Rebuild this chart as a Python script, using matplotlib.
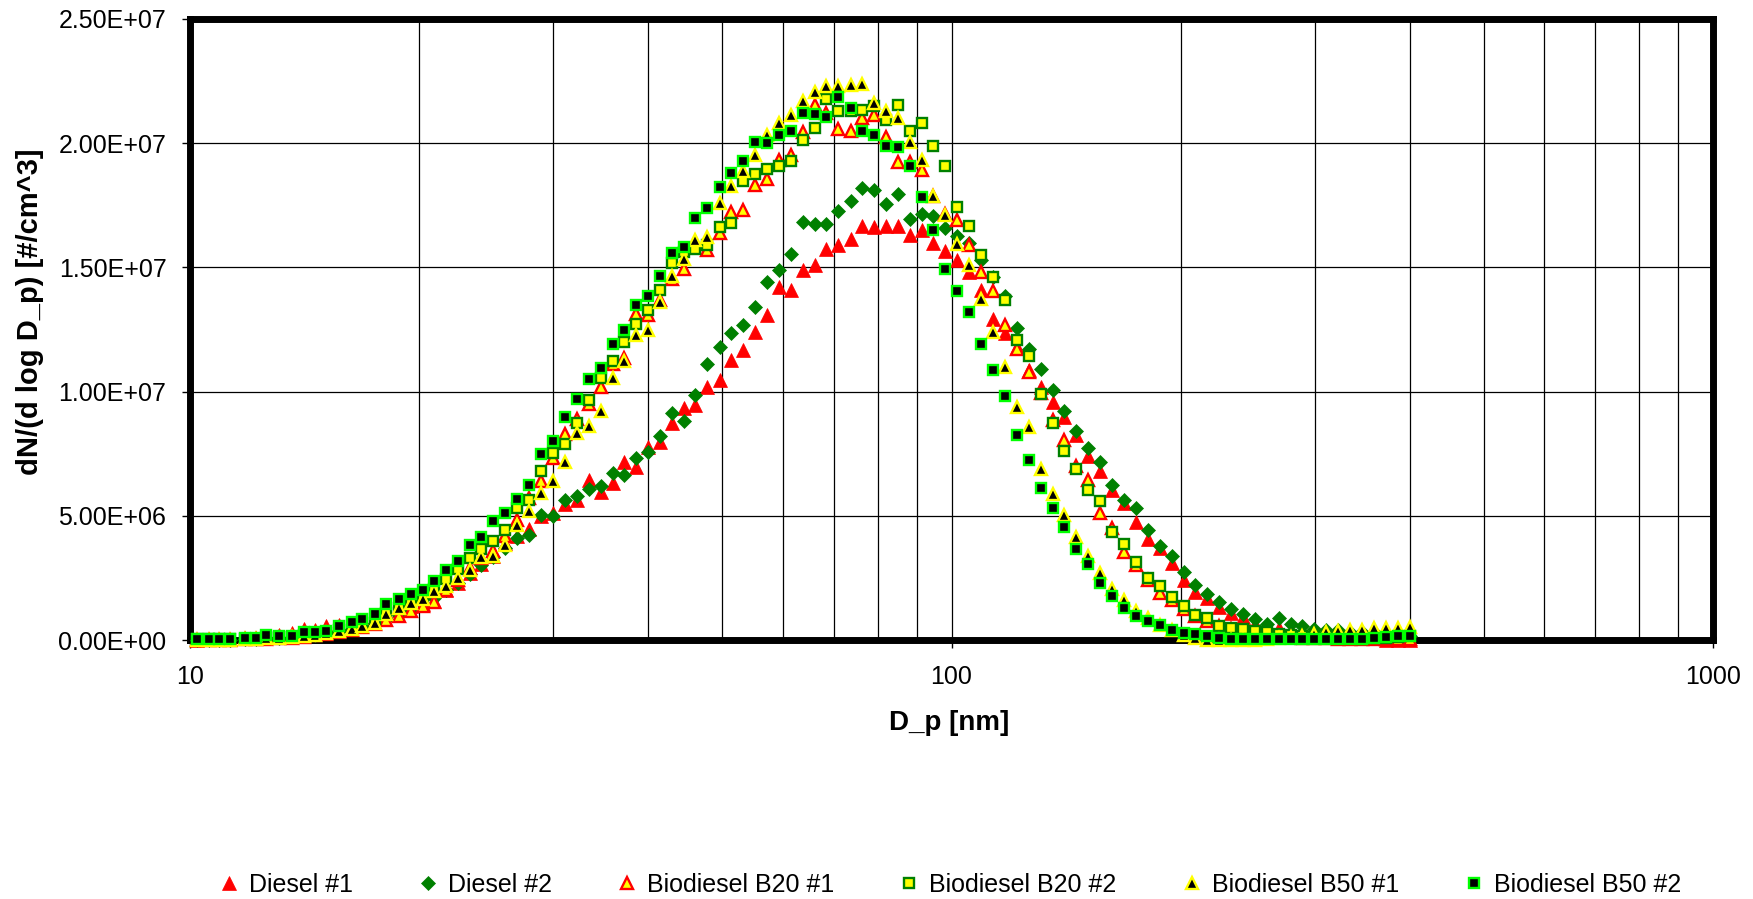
import matplotlib
matplotlib.use("Agg")
import matplotlib.pyplot as plt
import numpy as np
from matplotlib.ticker import FixedLocator, FuncFormatter, NullFormatter

plt.rcParams['font.family'] = ['Liberation Sans', 'DejaVu Sans']

# particle diameter channels [nm]
diameter_nm = [
    10.2, 10.6, 10.9, 11.3, 11.8, 12.2, 12.6, 13.1, 13.6, 14.1,
    14.6, 15.1, 15.7, 16.3, 16.8, 17.5, 18.1, 18.8, 19.5, 20.2,
    20.9, 21.7, 22.5, 23.3, 24.1, 25.0, 25.9, 26.9, 27.9, 28.9,
    30.0, 31.1, 32.2, 33.4, 34.6, 35.9, 37.2, 38.5, 40.0, 41.4,
    42.9, 44.5, 46.1, 47.8, 49.6, 51.4, 53.3, 55.2, 57.3, 59.4,
    61.5, 63.8, 66.1, 68.5, 71.0, 73.7, 76.4, 79.1, 82.0, 85.1,
    88.2, 91.4, 94.7, 98.2, 101.8, 105.5, 109.4, 113.4, 117.6, 121.9,
    126.3, 131.0, 135.8, 140.7, 145.9, 151.2, 156.8, 162.5, 168.5, 174.7,
    181.1, 187.7, 194.6, 201.7, 209.1, 216.7, 224.7, 232.9, 241.4, 250.3,
    259.5, 269.0, 278.8, 289.0, 299.6, 310.6, 322.0, 333.8, 346.0, 358.7,
    371.8, 385.4, 399.5,
]

# dN/dlogDp in units of 1e6 #/cm^3
diesel_1 = [
    0.02, 0.03, 0.04, 0.05, 0.08, 0.10, 0.15, 0.22, 0.30, 0.45,
    0.42, 0.55, 0.60, 0.70, 0.80, 0.92, 1.05, 1.20, 1.35, 1.45,
    1.55, 2.00, 2.30, 2.70, 3.05, 3.40, 3.90, 4.20, 4.45, 4.98,
    5.11, 5.48, 5.63, 6.44, 5.95, 6.32, 7.15, 6.97, 7.78, 7.98,
    8.72, 9.35, 9.45, 10.18, 10.47, 11.28, 11.67, 12.40, 13.08, 14.21,
    14.11, 14.88, 15.08, 15.76, 15.89, 16.16, 16.67, 16.61, 16.67, 16.67,
    16.29, 16.49, 16.00, 15.67, 15.29, 14.80, 14.10, 12.92, 12.35, 11.80,
    10.86, 10.20, 9.59, 8.97, 8.25, 7.40, 6.80, 6.03, 5.50, 4.76,
    4.05, 3.71, 3.08, 2.41, 1.94, 1.68, 1.34, 1.07, 0.94, 0.64,
    0.54, 0.47, 0.40, 0.33, 0.33, 0.31, 0.31, 0.27, 0.24, 0.13,
    0.00, 0.00, 0.00,
]
diesel_2 = [
    0.02, 0.02, 0.02, 0.02, 0.03, 0.05, 0.07, 0.10, 0.13, 0.17,
    0.22, 0.28, 0.36, 0.45, 0.55, 0.68, 0.85, 1.02, 1.22, 1.45,
    1.70, 2.00, 2.30, 2.65, 3.00, 3.35, 3.70, 4.10, 4.22, 5.03,
    4.98, 5.63, 5.79, 6.06, 6.21, 6.74, 6.64, 7.32, 7.57, 8.20,
    9.12, 8.82, 9.86, 11.12, 11.80, 12.37, 12.67, 13.41, 14.41, 14.88,
    15.55, 16.81, 16.76, 16.73, 17.27, 17.66, 18.21, 18.10, 17.54, 17.94,
    16.95, 17.15, 17.06, 16.60, 16.27, 15.99, 15.30, 14.60, 13.85, 12.58,
    11.70, 10.91, 10.08, 9.20, 8.40, 7.74, 7.18, 6.23, 5.63, 5.30,
    4.42, 3.78, 3.40, 2.75, 2.21, 1.86, 1.52, 1.24, 1.04, 0.83,
    0.64, 0.87, 0.63, 0.56, 0.44, 0.40, 0.40, 0.33, 0.33, 0.31,
    0.25, 0.20, 0.18,
]
b20_1 = [
    0.02, 0.02, 0.02, 0.02, 0.03, 0.04, 0.06, 0.08, 0.10, 0.14,
    0.20, 0.26, 0.33, 0.42, 0.52, 0.64, 0.80, 0.95, 1.15, 1.35,
    1.54, 2.00, 2.40, 2.90, 3.30, 3.60, 4.20, 4.83, 5.70, 6.40,
    7.31, 8.31, 8.90, 9.50, 10.19, 11.13, 11.37, 13.14, 13.07, 13.70,
    14.55, 14.95, 15.96, 15.72, 16.40, 17.22, 17.32, 18.30, 18.55, 19.33,
    19.51, 20.45, 21.52, 21.20, 20.58, 20.51, 21.00, 21.12, 20.25, 19.24,
    19.24, 18.91, 17.87, 17.16, 16.89, 15.89, 14.81, 14.05, 12.70, 11.73,
    10.80, 9.95, 8.85, 8.05, 7.00, 6.46, 5.12, 4.50, 3.55, 3.02,
    2.40, 1.90, 1.60, 1.25, 0.95, 0.75, 0.55, 0.45, 0.35, 0.27,
    0.20, 0.15, 0.12, 0.10, 0.08, 0.07, 0.06, 0.05, 0.05, 0.05,
    0.05, 0.05, 0.05,
]
b20_2 = [
    0.03, 0.03, 0.03, 0.03, 0.05, 0.05, 0.10, 0.12, 0.14, 0.20,
    0.22, 0.30, 0.42, 0.55, 0.68, 0.85, 1.10, 1.30, 1.55, 1.75,
    2.05, 2.45, 2.84, 3.31, 3.65, 3.98, 4.43, 5.30, 5.62, 6.81,
    7.51, 7.91, 8.72, 9.68, 10.53, 11.24, 12.00, 12.71, 13.30, 14.10,
    15.18, 15.60, 15.75, 15.89, 16.62, 16.79, 18.47, 18.77, 18.98, 19.10,
    19.28, 20.14, 20.61, 21.76, 21.30, 21.30, 21.32, 21.50, 20.92, 21.55,
    20.50, 20.81, 19.87, 19.07, 17.43, 16.68, 15.48, 14.61, 13.70, 12.09,
    11.42, 9.90, 8.73, 7.60, 6.89, 6.03, 5.59, 4.36, 3.86, 3.15,
    2.48, 2.17, 1.72, 1.37, 1.01, 0.87, 0.57, 0.49, 0.43, 0.36,
    0.31, 0.25, 0.20, 0.16, 0.13, 0.10, 0.08, 0.07, 0.06, 0.08,
    0.10, 0.12, 0.15,
]
b50_1 = [
    0.02, 0.02, 0.02, 0.02, 0.03, 0.05, 0.08, 0.10, 0.12, 0.16,
    0.22, 0.28, 0.36, 0.43, 0.56, 0.70, 1.03, 1.30, 1.50, 1.65,
    1.98, 2.18, 2.49, 2.82, 3.33, 3.38, 3.82, 4.61, 5.20, 5.90,
    6.41, 7.17, 8.34, 8.63, 9.22, 10.53, 11.24, 12.27, 12.46, 13.61,
    14.64, 15.35, 16.09, 16.21, 17.59, 18.28, 18.90, 19.52, 20.35, 20.81,
    21.12, 21.69, 22.08, 22.32, 22.32, 22.36, 22.39, 21.61, 21.28, 21.03,
    20.04, 19.34, 17.88, 17.10, 15.94, 15.11, 13.72, 12.38, 11.00, 9.38,
    8.58, 6.89, 5.86, 5.03, 4.16, 3.38, 2.68, 2.04, 1.61, 1.17,
    0.87, 0.60, 0.40, 0.20, 0.07, 0.00, 0.00, 0.00, 0.00, 0.02,
    0.05, 0.08, 0.12, 0.18, 0.25, 0.31, 0.36, 0.40, 0.40, 0.47,
    0.47, 0.47, 0.54,
]
b50_2 = [
    0.04, 0.04, 0.04, 0.04, 0.07, 0.07, 0.20, 0.17, 0.17, 0.32,
    0.32, 0.37, 0.58, 0.71, 0.86, 1.03, 1.46, 1.64, 1.85, 2.01,
    2.36, 2.82, 3.17, 3.81, 4.16, 4.80, 5.11, 5.69, 6.22, 7.48,
    8.00, 8.98, 9.71, 10.50, 10.95, 11.91, 12.46, 13.48, 13.84, 14.65,
    15.57, 15.81, 16.98, 17.40, 18.24, 18.80, 19.28, 20.03, 19.99, 20.35,
    20.51, 21.21, 21.19, 21.05, 21.88, 21.43, 20.51, 20.35, 19.87, 19.84,
    19.07, 17.82, 16.50, 14.92, 14.07, 13.21, 11.92, 10.88, 9.81, 8.24,
    7.23, 6.13, 5.33, 4.53, 3.68, 3.05, 2.28, 1.76, 1.30, 0.98,
    0.76, 0.59, 0.40, 0.29, 0.24, 0.17, 0.07, 0.03, 0.03, 0.03,
    0.03, 0.03, 0.03, 0.03, 0.04, 0.04, 0.04, 0.04, 0.04, 0.07,
    0.13, 0.17, 0.17,
]

series_names = ["Diesel #1", "Diesel #2", "Biodiesel B20 #1",
                "Biodiesel B20 #2", "Biodiesel B50 #1", "Biodiesel B50 #2"]
series_values = [diesel_1, diesel_2, b20_1, b20_2, b50_1, b50_2]

styles = [
    dict(marker='^', ms=9.5, mfc='#FF0000', mec='#FF0000', mew=0.5),
    dict(marker='D', ms=6.8, mfc='#008000', mec='#008000', mew=0.5),
    dict(marker='^', ms=8.6, mfc='#FFFF00', mec='#FF0000', mew=1.7),
    dict(marker='s', ms=7.4, mfc='#FFFF00', mec='#008000', mew=1.7),
    dict(marker='^', ms=8.6, mfc='#000000', mec='#FFFF00', mew=1.7),
    dict(marker='s', ms=7.4, mfc='#000000', mec='#00FF00', mew=1.7),
]

W, H = 1753, 899
fig = plt.figure(figsize=(W / 100, H / 100), dpi=100)
ax = fig.add_axes([190 / W, (H - 640) / H, 1523 / W, 621 / H])

handles = []
for k, (name, vals, st) in enumerate(zip(series_names, series_values, styles)):
    h, = ax.plot(diameter_nm, np.array(vals) * 1e6, linestyle='none',
                 label=name, clip_on=False, zorder=3 + k, **st)
    handles.append(h)

ax.set_xscale('log')
ax.set_xlim(10, 1000)
ax.set_ylim(0, 2.5e7)
ax.yaxis.set_major_locator(FixedLocator(np.arange(0, 2.51e7, 5e6)))
ax.yaxis.set_major_formatter(FuncFormatter(lambda v, p: f"{v:.2E}"))
ax.xaxis.set_major_locator(FixedLocator([10, 100, 1000]))
ax.xaxis.set_major_formatter(FuncFormatter(lambda v, p: f"{int(round(v))}"))
minors = [m * d for d in (10, 100) for m in range(2, 10)]
ax.xaxis.set_minor_locator(FixedLocator(minors))
ax.xaxis.set_minor_formatter(NullFormatter())

ax.set_axisbelow(True)
ax.grid(True, which='both', axis='x', color='#000000', lw=0.9)
ax.grid(True, which='major', axis='y', color='#000000', lw=0.9)
ax.tick_params(axis='x', which='minor', length=0)
ax.tick_params(axis='y', which='major', length=6, width=1, direction='out',
               labelsize=18, pad=11)
ax.tick_params(axis='x', which='major', length=6, width=1, direction='out',
               labelsize=18, pad=12)
for s in ax.spines.values():
    s.set_linewidth(5.0)
    s.set_color('black')

fig.text(30 / W, 1 - 312 / H, "dN/(d log D_p) [#/cm^3]", rotation=90,
         ha='center', va='center', fontsize=21, fontweight='bold')
fig.text(949 / W, 1 - 723 / H, "D_p [nm]", ha='center', va='center',
         fontsize=20, fontweight='bold')

fig.legend(handles, series_names, loc='center', ncol=6, frameon=False,
           bbox_to_anchor=(950 / W, 1 - 885 / H), fontsize=18,
           handlelength=0.8, handletextpad=0.4, columnspacing=2.6,
           borderaxespad=0)

fig.savefig("out.png", dpi=100)
